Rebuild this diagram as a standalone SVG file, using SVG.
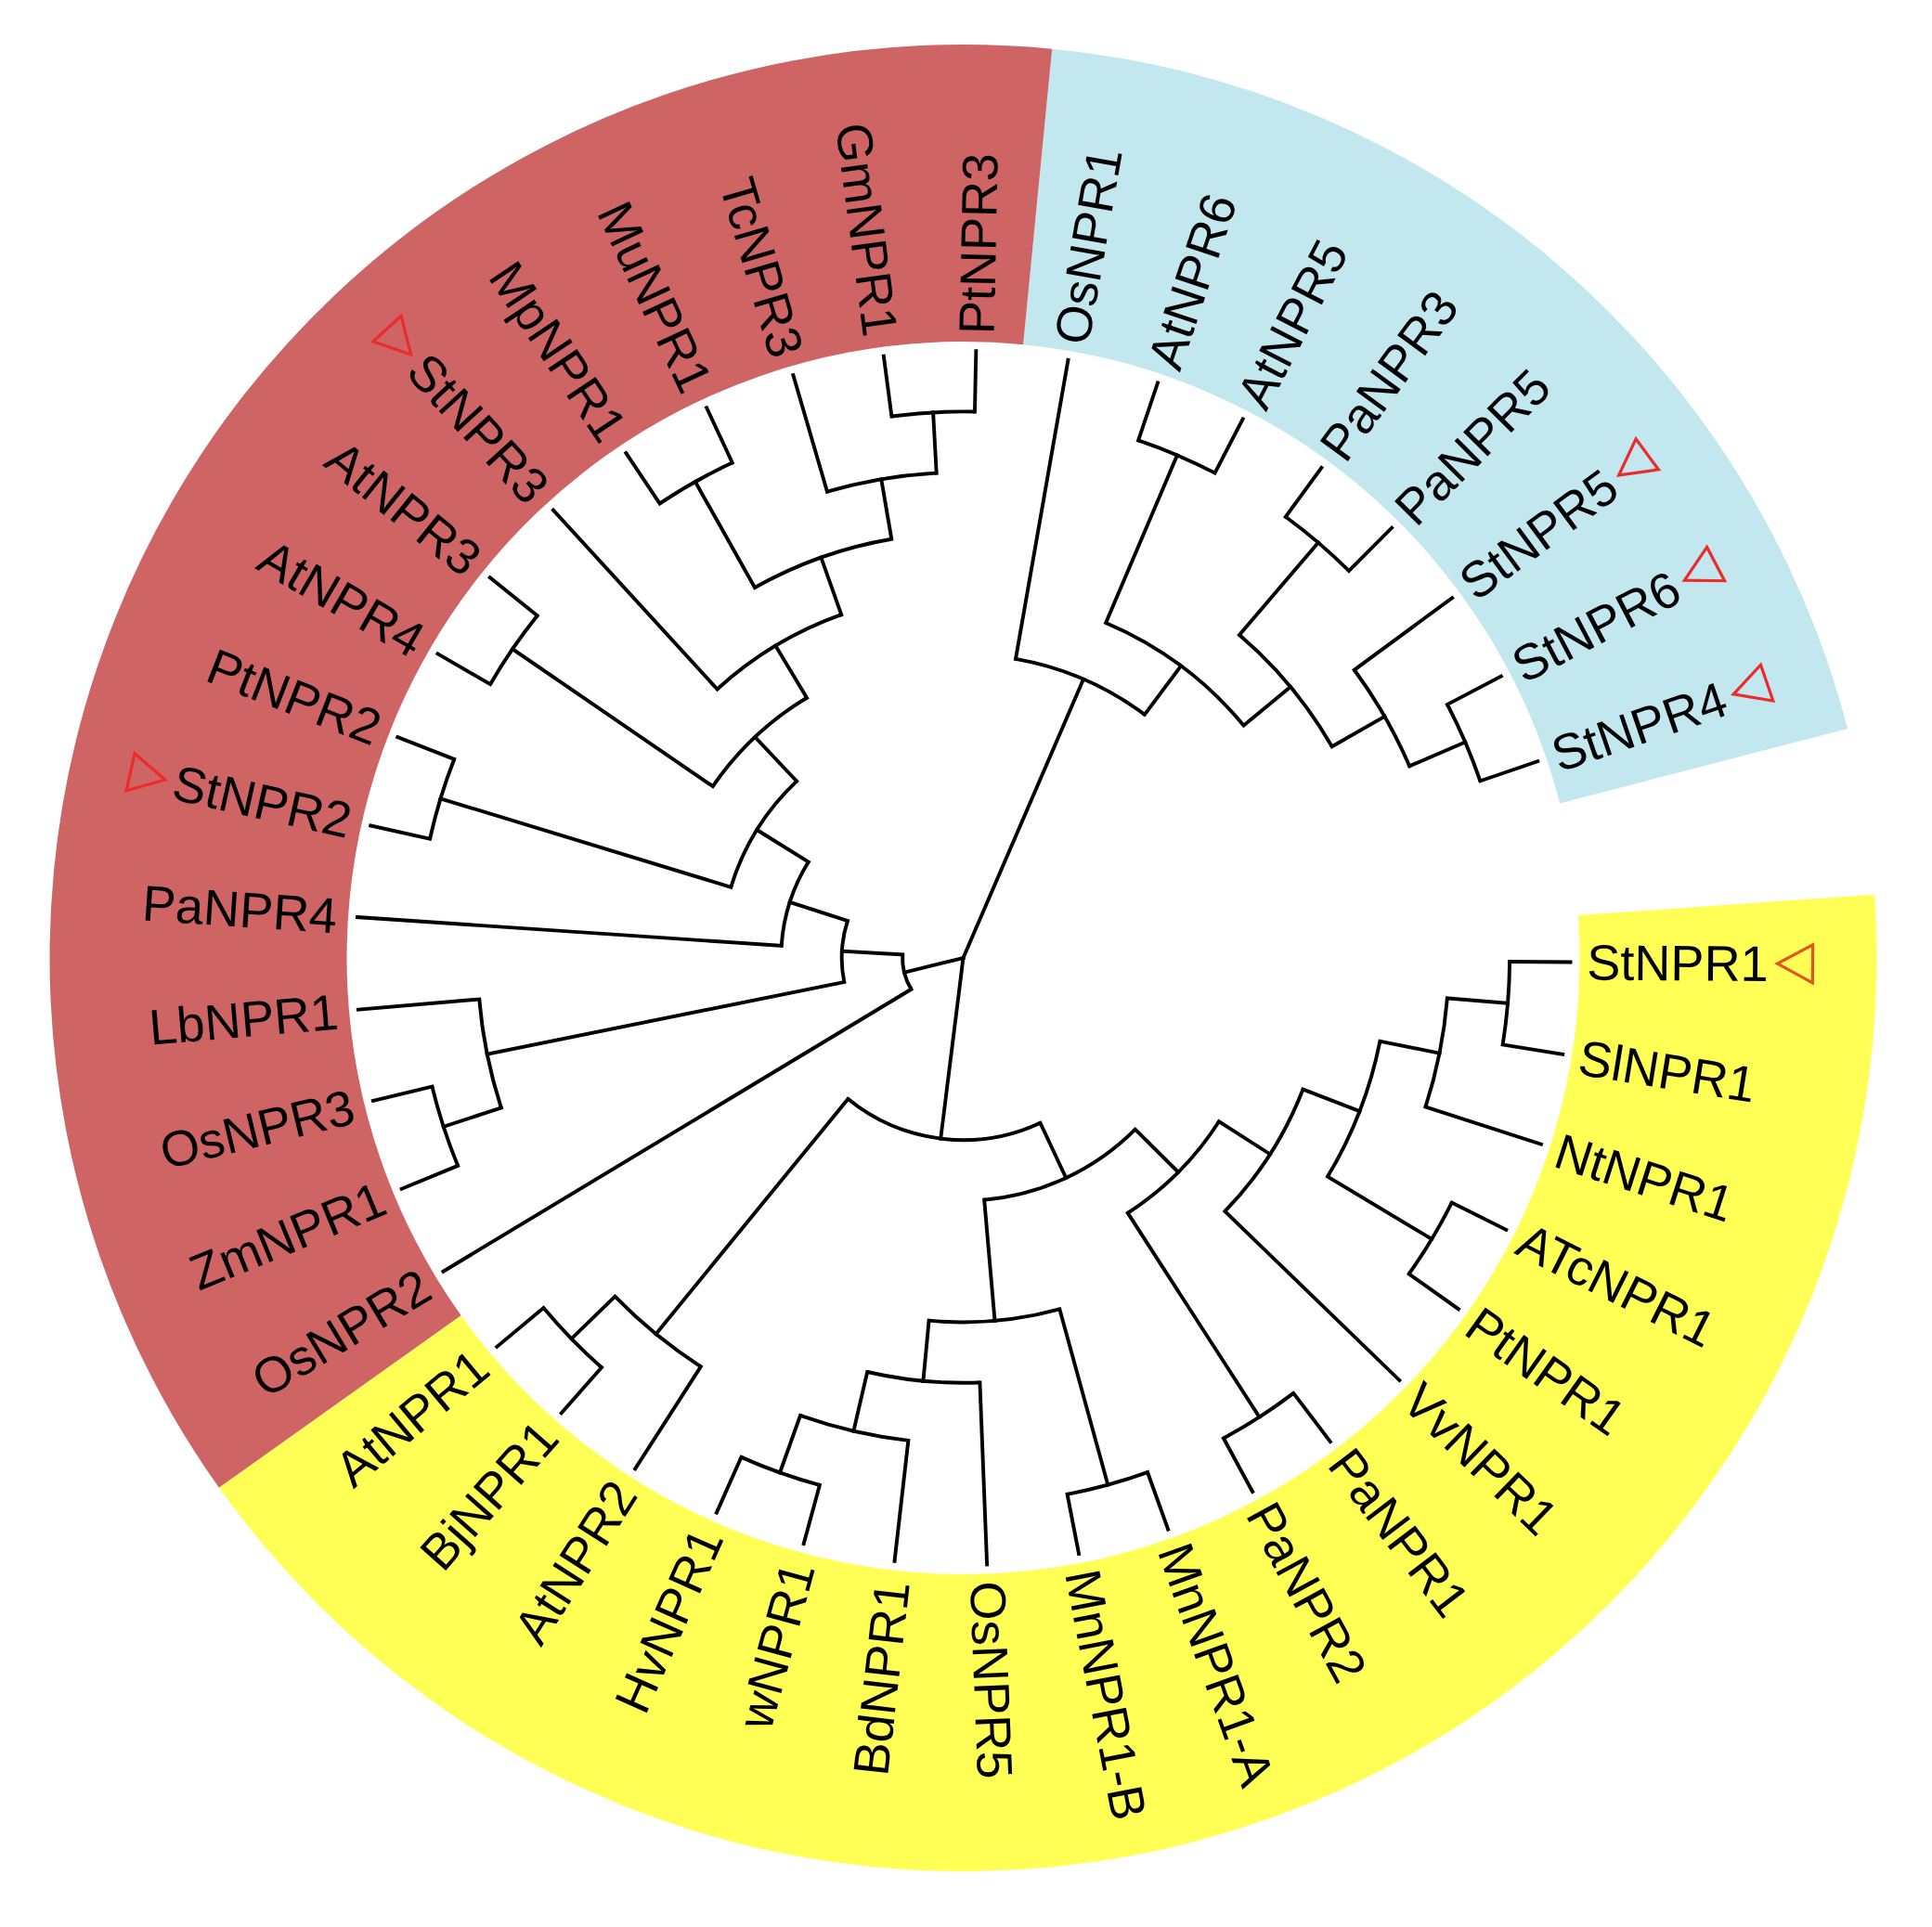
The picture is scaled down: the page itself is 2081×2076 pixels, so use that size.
<svg xmlns="http://www.w3.org/2000/svg" width="2081" height="2076" viewBox="0 0 2081 2076">
<style>
.br{fill:none;stroke:#000;stroke-width:3.9;stroke-linecap:square}
.arc{fill:none;stroke:#000;stroke-width:3.9}
text{font-family:"Liberation Sans",Arial,sans-serif;font-size:54px;fill:#000}
.r text{text-anchor:start}
.l text{text-anchor:end}
.tri{fill:none;stroke:#EC2B2B;stroke-width:3.2;stroke-linejoin:miter}
</style>
<rect width="2081" height="2076" fill="#fff"/>
<g id="clade-bands">
<path id="band-blue" fill="#C2E7EF" d="M1990.02 785.09 A984 984 0 0 0 1133.18 52.66 L1102.07 371.15 A664 664 0 0 1 1680.26 865.39 Z"/>
<path id="band-red" fill="#CE6464" d="M1133.18 52.66 A984 984 0 0 0 236.01 1602.84 L496.66 1417.21 A664 664 0 0 1 1102.07 371.15 Z"/>
<path id="band-yellow" fill="#FFFF55" d="M236.01 1602.84 A984 984 0 0 0 2019.14 963.84 L1699.90 986.01 A664 664 0 0 1 496.66 1417.21 Z"/>
</g>
<g id="connectors" transform="translate(1037.5 1032)">
<!-- root -->
<path class="br" d="M0 0H327" transform="rotate(-66.675)"/>
<path class="br" d="M0 0H65.4" transform="rotate(-193.944)"/>
<path class="br" d="M0 0H196.2" transform="rotate(-262.894)"/>
<!-- leaf branches -->
<path class="br" d="M654 0H588.6" transform="rotate(-18.9)"/>
<path class="br" d="M654 0H588.6" transform="rotate(-27.636)"/>
<path class="br" d="M654 0H523.2" transform="rotate(-36.372)"/>
<path class="br" d="M654 0H588.6" transform="rotate(-45.108)"/>
<path class="br" d="M654 0H588.6" transform="rotate(-53.844)"/>
<path class="br" d="M654 0H588.6" transform="rotate(-62.58)"/>
<path class="br" d="M654 0H588.6" transform="rotate(-71.316)"/>
<path class="br" d="M654 0H327" transform="rotate(-80.052)"/>
<path class="br" d="M654 0H588.6" transform="rotate(-88.788)"/>
<path class="br" d="M654 0H588.6" transform="rotate(-97.524)"/>
<path class="br" d="M654 0H523.2" transform="rotate(-106.26)"/>
<path class="br" d="M654 0H588.6" transform="rotate(-114.996)"/>
<path class="br" d="M654 0H588.6" transform="rotate(-123.732)"/>
<path class="br" d="M654 0H392.4" transform="rotate(-132.468)"/>
<path class="br" d="M654 0H588.6" transform="rotate(-141.204)"/>
<path class="br" d="M654 0H588.6" transform="rotate(-149.94)"/>
<path class="br" d="M654 0H588.6" transform="rotate(-158.676)"/>
<path class="br" d="M654 0H588.6" transform="rotate(-167.412)"/>
<path class="br" d="M654 0H196.2" transform="rotate(-176.148)"/>
<path class="br" d="M654 0H523.2" transform="rotate(-184.884)"/>
<path class="br" d="M654 0H588.6" transform="rotate(-193.62)"/>
<path class="br" d="M654 0H588.6" transform="rotate(-202.356)"/>
<path class="br" d="M654 0H65.4" transform="rotate(-211.092)"/>
<path class="br" d="M654 0H588.6" transform="rotate(-219.828)"/>
<path class="br" d="M654 0H588.6" transform="rotate(-228.564)"/>
<path class="br" d="M654 0H523.2" transform="rotate(-237.3)"/>
<path class="br" d="M654 0H588.6" transform="rotate(-246.036)"/>
<path class="br" d="M654 0H588.6" transform="rotate(-254.772)"/>
<path class="br" d="M654 0H523.2" transform="rotate(-263.508)"/>
<path class="br" d="M654 0H457.8" transform="rotate(-272.244)"/>
<path class="br" d="M654 0H588.6" transform="rotate(-280.98)"/>
<path class="br" d="M654 0H588.6" transform="rotate(-289.716)"/>
<path class="br" d="M654 0H588.6" transform="rotate(-298.452)"/>
<path class="br" d="M654 0H588.6" transform="rotate(-307.188)"/>
<path class="br" d="M654 0H392.4" transform="rotate(-315.924)"/>
<path class="br" d="M654 0H588.6" transform="rotate(-324.66)"/>
<path class="br" d="M654 0H588.6" transform="rotate(-333.396)"/>
<path class="br" d="M654 0H523.2" transform="rotate(-342.132)"/>
<path class="br" d="M654 0H588.6" transform="rotate(-350.868)"/>
<path class="br" d="M654 0H588.6" transform="rotate(-359.604)"/>
<!-- internal branches: blue clade -->
<path class="br" d="M588.6 0H523.2" transform="rotate(-23.268)"/>
<path class="br" d="M523.2 0H457.8" transform="rotate(-29.82)"/>
<path class="br" d="M588.6 0H457.8" transform="rotate(-49.476)"/>
<path class="br" d="M457.8 0H392.4" transform="rotate(-39.648)"/>
<path class="br" d="M588.6 0H392.4" transform="rotate(-66.948)"/>
<path class="br" d="M392.4 0H327" transform="rotate(-53.298)"/>
<circle class="arc" r="588.6" transform="rotate(-27.636)" stroke-dasharray="89.75 9999"/>
<circle class="arc" r="523.2" transform="rotate(-36.372)" stroke-dasharray="119.66 9999"/>
<circle class="arc" r="588.6" transform="rotate(-53.844)" stroke-dasharray="89.75 9999"/>
<circle class="arc" r="457.8" transform="rotate(-49.476)" stroke-dasharray="157.05 9999"/>
<circle class="arc" r="588.6" transform="rotate(-71.316)" stroke-dasharray="89.75 9999"/>
<circle class="arc" r="392.4" transform="rotate(-66.948)" stroke-dasharray="186.97 9999"/>
<circle class="arc" r="327" transform="rotate(-80.052)" stroke-dasharray="152.69 9999"/>
<!-- internal branches: red clade -->
<path class="br" d="M588.6 0H523.2" transform="rotate(-93.156)"/>
<path class="br" d="M523.2 0H457.8" transform="rotate(-99.708)"/>
<path class="br" d="M588.6 0H457.8" transform="rotate(-119.364)"/>
<path class="br" d="M457.8 0H392.4" transform="rotate(-109.536)"/>
<path class="br" d="M392.4 0H327" transform="rotate(-121.002)"/>
<path class="br" d="M588.6 0H327" transform="rotate(-145.572)"/>
<path class="br" d="M327 0H261.6" transform="rotate(-133.287)"/>
<path class="br" d="M588.6 0H261.6" transform="rotate(-163.044)"/>
<path class="br" d="M261.6 0H196.2" transform="rotate(-148.1655)"/>
<path class="br" d="M196.2 0H130.8" transform="rotate(-162.157)"/>
<path class="br" d="M588.6 0H523.2" transform="rotate(-197.988)"/>
<path class="br" d="M523.2 0H130.8" transform="rotate(-191.436)"/>
<path class="br" d="M130.8 0H65.4" transform="rotate(-176.7965)"/>
<circle class="arc" r="588.6" transform="rotate(-97.524)" stroke-dasharray="89.75 9999"/>
<circle class="arc" r="523.2" transform="rotate(-106.26)" stroke-dasharray="119.66 9999"/>
<circle class="arc" r="588.6" transform="rotate(-123.732)" stroke-dasharray="89.75 9999"/>
<circle class="arc" r="457.8" transform="rotate(-119.364)" stroke-dasharray="157.05 9999"/>
<circle class="arc" r="392.4" transform="rotate(-132.468)" stroke-dasharray="157.05 9999"/>
<circle class="arc" r="588.6" transform="rotate(-149.94)" stroke-dasharray="89.75 9999"/>
<circle class="arc" r="327" transform="rotate(-145.572)" stroke-dasharray="140.23 9999"/>
<circle class="arc" r="588.6" transform="rotate(-167.412)" stroke-dasharray="89.75 9999"/>
<circle class="arc" r="261.6" transform="rotate(-163.044)" stroke-dasharray="135.86 9999"/>
<circle class="arc" r="196.2" transform="rotate(-176.148)" stroke-dasharray="95.82 9999"/>
<circle class="arc" r="588.6" transform="rotate(-202.356)" stroke-dasharray="89.75 9999"/>
<circle class="arc" r="523.2" transform="rotate(-197.988)" stroke-dasharray="119.66 9999"/>
<circle class="arc" r="130.8" transform="rotate(-191.436)" stroke-dasharray="66.84 9999"/>
<circle class="arc" r="65.4" transform="rotate(-211.092)" stroke-dasharray="39.15 9999"/>
<!-- internal branches: yellow clade -->
<path class="br" d="M588.6 0H523.2" transform="rotate(-224.196)"/>
<path class="br" d="M523.2 0H196.2" transform="rotate(-230.748)"/>
<path class="br" d="M588.6 0H523.2" transform="rotate(-250.404)"/>
<path class="br" d="M523.2 0H457.8" transform="rotate(-256.956)"/>
<path class="br" d="M457.8 0H392.4" transform="rotate(-264.6)"/>
<path class="br" d="M588.6 0H392.4" transform="rotate(-285.348)"/>
<path class="br" d="M392.4 0H261.6" transform="rotate(-274.974)"/>
<path class="br" d="M588.6 0H327" transform="rotate(-302.82)"/>
<path class="br" d="M588.6 0H457.8" transform="rotate(-329.028)"/>
<path class="br" d="M588.6 0H523.2" transform="rotate(-355.236)"/>
<path class="br" d="M523.2 0H457.8" transform="rotate(-348.684)"/>
<path class="br" d="M457.8 0H392.4" transform="rotate(-338.856)"/>
<path class="br" d="M392.4 0H327" transform="rotate(-327.39)"/>
<path class="br" d="M327 0H261.6" transform="rotate(-315.105)"/>
<path class="br" d="M261.6 0H196.2" transform="rotate(-295.0395)"/>
<circle class="arc" r="588.6" transform="rotate(-228.564)" stroke-dasharray="89.75 9999"/>
<circle class="arc" r="523.2" transform="rotate(-237.3)" stroke-dasharray="119.66 9999"/>
<circle class="arc" r="588.6" transform="rotate(-254.772)" stroke-dasharray="89.75 9999"/>
<circle class="arc" r="523.2" transform="rotate(-263.508)" stroke-dasharray="119.66 9999"/>
<circle class="arc" r="457.8" transform="rotate(-272.244)" stroke-dasharray="122.15 9999"/>
<circle class="arc" r="588.6" transform="rotate(-289.716)" stroke-dasharray="89.75 9999"/>
<circle class="arc" r="392.4" transform="rotate(-285.348)" stroke-dasharray="142.10 9999"/>
<circle class="arc" r="588.6" transform="rotate(-307.188)" stroke-dasharray="89.75 9999"/>
<circle class="arc" r="588.6" transform="rotate(-333.396)" stroke-dasharray="89.75 9999"/>
<circle class="arc" r="588.6" transform="rotate(-359.604)" stroke-dasharray="89.75 9999"/>
<circle class="arc" r="523.2" transform="rotate(-355.236)" stroke-dasharray="119.66 9999"/>
<circle class="arc" r="457.8" transform="rotate(-348.684)" stroke-dasharray="157.05 9999"/>
<circle class="arc" r="392.4" transform="rotate(-338.856)" stroke-dasharray="157.05 9999"/>
<circle class="arc" r="327" transform="rotate(-327.39)" stroke-dasharray="140.23 9999"/>
<circle class="arc" r="261.6" transform="rotate(-315.105)" stroke-dasharray="183.23 9999"/>
<circle class="arc" r="196.2" transform="rotate(-295.0395)" stroke-dasharray="220.15 9999"/>
</g>
<g id="labels">
<g id="leaf-StNPR4" class="r" transform="translate(1037.5 1032) rotate(-18.9)"><text x="672" dy="0.35em">StNPR4</text><polygon class="tri" points="877,0 915,-20.5 915,20.5"/></g>
<g id="leaf-StNPR6" class="r" transform="translate(1037.5 1032) rotate(-27.636)"><text x="672" dy="0.35em">StNPR6</text><polygon class="tri" points="877,0 915,-20.5 915,20.5"/></g>
<g id="leaf-StNPR5" class="r" transform="translate(1037.5 1032) rotate(-36.372)"><text x="672" dy="0.35em">StNPR5</text><polygon class="tri" points="877,0 915,-20.5 915,20.5"/></g>
<g id="leaf-PaNPR5" class="r" transform="translate(1037.5 1032) rotate(-45.108)"><text x="672" dy="0.35em">PaNPR5</text></g>
<g id="leaf-PaNPR3" class="r" transform="translate(1037.5 1032) rotate(-53.844)"><text x="672" dy="0.35em">PaNPR3</text></g>
<g id="leaf-AtNPR5" class="r" transform="translate(1037.5 1032) rotate(-62.58)"><text x="672" dy="0.35em">AtNPR5</text></g>
<g id="leaf-AtNPR6" class="r" transform="translate(1037.5 1032) rotate(-71.316)"><text x="672" dy="0.35em">AtNPR6</text></g>
<g id="leaf-OsNPR1" class="r" transform="translate(1037.5 1032) rotate(-80.052)"><text x="672" dy="0.35em">OsNPR1</text></g>
<g id="leaf-PtNPR3" class="r" transform="translate(1037.5 1032) rotate(-88.788)"><text x="672" dy="0.35em">PtNPR3</text></g>
<g id="leaf-GmNPR1" class="l" transform="translate(1037.5 1032) rotate(82.476)"><text x="-676" dy="0.35em">GmNPR1</text></g>
<g id="leaf-TcNPR3" class="l" transform="translate(1037.5 1032) rotate(73.74)"><text x="-676" dy="0.35em">TcNPR3</text></g>
<g id="leaf-MuNPR1" class="l" transform="translate(1037.5 1032) rotate(65.004)"><text x="-676" dy="0.35em">MuNPR1</text></g>
<g id="leaf-MpNPR1" class="l" transform="translate(1037.5 1032) rotate(56.268)"><text x="-676" dy="0.35em">MpNPR1</text></g>
<g id="leaf-StNPR3" class="l" transform="translate(1037.5 1032) rotate(47.532)"><text x="-676" dy="0.35em">StNPR3</text><polygon class="tri" points="-881,0 -919,-20.5 -919,20.5"/></g>
<g id="leaf-AtNPR3" class="l" transform="translate(1037.5 1032) rotate(38.796)"><text x="-676" dy="0.35em">AtNPR3</text></g>
<g id="leaf-AtNPR4" class="l" transform="translate(1037.5 1032) rotate(30.06)"><text x="-676" dy="0.35em">AtNPR4</text></g>
<g id="leaf-PtNPR2" class="l" transform="translate(1037.5 1032) rotate(21.324)"><text x="-676" dy="0.35em">PtNPR2</text></g>
<g id="leaf-StNPR2" class="l" transform="translate(1037.5 1032) rotate(12.588)"><text x="-676" dy="0.35em">StNPR2</text><polygon class="tri" points="-881,0 -919,-20.5 -919,20.5"/></g>
<g id="leaf-PaNPR4" class="l" transform="translate(1037.5 1032) rotate(3.852)"><text x="-676" dy="0.35em">PaNPR4</text></g>
<g id="leaf-LbNPR1" class="l" transform="translate(1037.5 1032) rotate(-4.884)"><text x="-676" dy="0.35em">LbNPR1</text></g>
<g id="leaf-OsNPR3" class="l" transform="translate(1037.5 1032) rotate(-13.62)"><text x="-676" dy="0.35em">OsNPR3</text></g>
<g id="leaf-ZmNPR1" class="l" transform="translate(1037.5 1032) rotate(-22.356)"><text x="-676" dy="0.35em">ZmNPR1</text></g>
<g id="leaf-OsNPR2" class="l" transform="translate(1037.5 1032) rotate(-31.092)"><text x="-676" dy="0.35em">OsNPR2</text></g>
<g id="leaf-AtNPR1" class="l" transform="translate(1037.5 1032) rotate(-39.828)"><text x="-676" dy="0.35em">AtNPR1</text></g>
<g id="leaf-BjNPR1" class="l" transform="translate(1037.5 1032) rotate(-48.564)"><text x="-676" dy="0.35em">BjNPR1</text></g>
<g id="leaf-AtNPR2" class="l" transform="translate(1037.5 1032) rotate(-57.3)"><text x="-676" dy="0.35em">AtNPR2</text></g>
<g id="leaf-HvNPR1" class="l" transform="translate(1037.5 1032) rotate(-66.036)"><text x="-676" dy="0.35em">HvNPR1</text></g>
<g id="leaf-wNPR1" class="l" transform="translate(1037.5 1032) rotate(-74.772)"><text x="-676" dy="0.35em">wNPR1</text></g>
<g id="leaf-BdNPR1" class="l" transform="translate(1037.5 1032) rotate(-83.508)"><text x="-676" dy="0.35em">BdNPR1</text></g>
<g id="leaf-OsNPR5" class="r" transform="translate(1037.5 1032) rotate(87.756)"><text x="672" dy="0.35em">OsNPR5</text></g>
<g id="leaf-MnNPR1-B" class="r" transform="translate(1037.5 1032) rotate(79.02)"><text x="672" dy="0.35em">MnNPR1-B</text></g>
<g id="leaf-MnNPR1-A" class="r" transform="translate(1037.5 1032) rotate(70.284)"><text x="672" dy="0.35em">MnNPR1-A</text></g>
<g id="leaf-PaNPR2" class="r" transform="translate(1037.5 1032) rotate(61.548)"><text x="672" dy="0.35em">PaNPR2</text></g>
<g id="leaf-PaNPR1" class="r" transform="translate(1037.5 1032) rotate(52.812)"><text x="672" dy="0.35em">PaNPR1</text></g>
<g id="leaf-VvNPR1" class="r" transform="translate(1037.5 1032) rotate(44.076)"><text x="672" dy="0.35em">VvNPR1</text></g>
<g id="leaf-PtNPR1" class="r" transform="translate(1037.5 1032) rotate(35.34)"><text x="672" dy="0.35em">PtNPR1</text></g>
<g id="leaf-ATcNPR1" class="r" transform="translate(1037.5 1032) rotate(26.604)"><text x="672" dy="0.35em">ATcNPR1</text></g>
<g id="leaf-NtNPR1" class="r" transform="translate(1037.5 1032) rotate(17.868)"><text x="672" dy="0.35em">NtNPR1</text></g>
<g id="leaf-SlNPR1" class="r" transform="translate(1037.5 1032) rotate(9.132)"><text x="672" dy="0.35em">SlNPR1</text></g>
<g id="leaf-StNPR1" class="r" transform="translate(1037.5 1032) rotate(0.396)"><text x="672" dy="0.35em">StNPR1</text><polygon class="tri" style="stroke:#E2531D" points="877,0 915,-20.5 915,20.5"/></g>
</g>
</svg>
